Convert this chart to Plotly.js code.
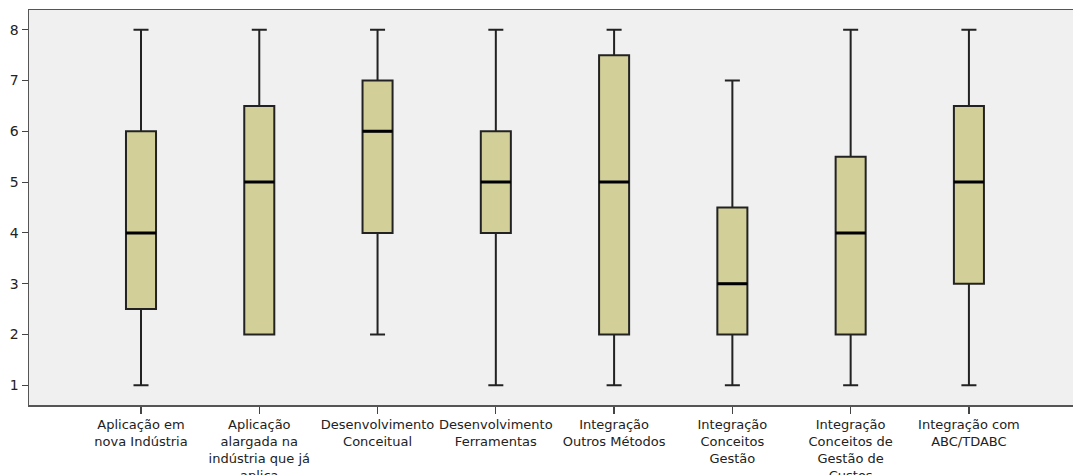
<!DOCTYPE html>
<html>
<head>
<meta charset="utf-8">
<script src="https://cdn.plot.ly/plotly-3.0.1.min.js"></script>
<style>html,body{margin:0;padding:0;background:#fff;}#chart{width:1073px;height:475px;}</style>
</head>
<body>
<div id="chart"></div>
<script>
const categories = ["Aplicação em nova Indústria", "Aplicação alargada na indústria que já aplica", "Desenvolvimento Conceitual", "Desenvolvimento Ferramentas", "Integração Outros Métodos", "Integração Conceitos Gestão", "Integração Conceitos de Gestão de Custos", "Integração com ABC/TDABC"];
const tickLabels = ["Aplicação em<br>nova Indústria", "Aplicação<br>alargada na<br>indústria que já<br>aplica", "Desenvolvimento<br>Conceitual", "Desenvolvimento<br>Ferramentas", "Integração<br>Outros Métodos", "Integração<br>Conceitos<br>Gestão", "Integração<br>Conceitos de<br>Gestão de<br>Custos", "Integração com<br>ABC/TDABC"];
const minVals = [1, 2, 2, 1, 1, 1, 1, 1];
const q1Vals = [2.5, 2, 4, 4, 2, 2, 2, 3];
const medianVals = [4, 5, 6, 5, 5, 3, 4, 5];
const q3Vals = [6, 6.5, 7, 6, 7.5, 4.5, 5.5, 6.5];
const maxVals = [8, 8, 8, 8, 8, 7, 8, 8];
const yTicks = [1, 2, 3, 4, 5, 6, 7, 8];

const boxTrace = {
  type: 'box', x: categories,
  q1: q1Vals, median: medianVals, q3: q3Vals,
  lowerfence: minVals, upperfence: maxVals,
  boxpoints: false, width: 0.254, whiskerwidth: 0.5,
  fillcolor: '#D3CF98', line: {color: '#222', width: 2},
  hoverinfo: 'skip', showlegend: false
};
const medianTrace = {
  type: 'box', x: categories,
  q1: medianVals, median: medianVals, q3: medianVals,
  lowerfence: medianVals, upperfence: medianVals,
  boxpoints: false, width: 0.254, whiskerwidth: 0,
  fillcolor: 'rgba(0,0,0,0)', line: {color: '#000', width: 3},
  hoverinfo: 'skip', showlegend: false
};

const xfont = {family: 'DejaVu Sans, Arial, sans-serif', size: 13, color: '#222'};
const yfont = {family: 'DejaVu Sans, Arial, sans-serif', size: 14, color: '#222'};
const layout = {
  width: 1073, height: 475,
  margin: {l: 29, r: 0, t: 10, b: 70, pad: 0},
  paper_bgcolor: '#ffffff', plot_bgcolor: '#F0F0F0',
  boxmode: 'overlay', showlegend: false, font: xfont,
  xaxis: {
    type: 'category', categoryorder: 'array', categoryarray: categories,
    tickvals: categories, ticktext: tickLabels,
    range: [-0.947, 7.88], autorange: false,
    showgrid: false, zeroline: false,
    showline: true, mirror: true, linecolor: '#555', linewidth: 1.5,
    ticks: 'outside', ticklen: 7, tickcolor: '#444', tickwidth: 1.2,
    tickfont: xfont, fixedrange: true
  },
  yaxis: {
    range: [0.61, 8.39], autorange: false,
    tickvals: yTicks, ticktext: yTicks.map(String),
    showgrid: false, zeroline: false,
    showline: true, linecolor: '#555', linewidth: 1.5,
    ticks: 'outside', ticklen: 6, tickcolor: '#444', tickwidth: 1.2,
    tickfont: yfont, fixedrange: true
  }
};
Plotly.newPlot('chart', [boxTrace, medianTrace], layout, {staticPlot: true, displayModeBar: false});
</script>
</body>
</html>
